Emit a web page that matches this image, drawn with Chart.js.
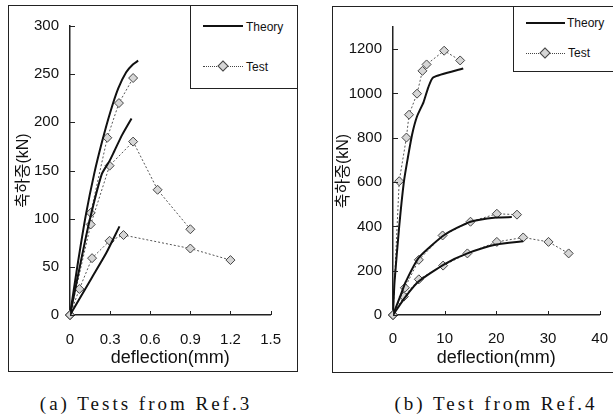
<!DOCTYPE html>
<html>
<head>
<meta charset="utf-8">
<script src="https://cdn.jsdelivr.net/npm/chart.js@4.4.1/dist/chart.umd.min.js"></script>
<style>
  body { margin: 0; width: 613px; height: 419px; overflow: hidden; background: #fff; position: relative;
         font-family: 'Liberation Sans', Arial, sans-serif; color: #111; }
  .frame { position: absolute; border: 1px solid #222; background: #fff; }
  .frame canvas { display: block; }
  .legend { position: absolute; border: 1px solid #222; background: #fff; }
  .solid { position: absolute; border-top: 2px solid #111; }
  .dotted { position: absolute; border-top: 1px dotted #444; }
  .dia { position: absolute; width: 6px; height: 6px; background: #d6d6d6; border: 1px solid #444; transform: rotate(45deg); }
  .lbl { position: absolute; font-size: 12px; line-height: 14px; }
  .cap { position: absolute; font-family: 'Liberation Serif', 'Times New Roman', serif; font-size: 19px;
         letter-spacing: 3px; white-space: nowrap; transform: translateX(-50%); }
</style>
</head>
<body>

<div class="frame" style="left:8px; top:5px; width:288px; height:365px;">
  <canvas id="chartA" width="288" height="365"></canvas>
</div>
<div class="frame" style="left:332px; top:6px; width:290px; height:365px;">
  <canvas id="chartB" width="290" height="365"></canvas>
</div>

<!-- legend (a) -->
<div class="legend" style="left:190px; top:5px; width:106px; height:82px;"></div>
<div class="solid" style="left:203px; top:25px; width:40px;"></div>
<div class="lbl" style="left:246px; top:20px;">Theory</div>
<div class="dotted" style="left:203px; top:66px; width:40px;"></div>
<div class="dia" style="left:219px; top:62px;"></div>
<div class="lbl" style="left:246px; top:60px;">Test</div>

<!-- legend (b) -->
<div class="legend" style="left:513px; top:6px; width:130px; height:64px;"></div>
<div class="solid" style="left:526px; top:22px; width:39px;"></div>
<div class="lbl" style="left:567px; top:16px;">Theory</div>
<div class="dotted" style="left:526px; top:53px; width:39px;"></div>
<div class="dia" style="left:541px; top:49px;"></div>
<div class="lbl" style="left:568px; top:46px;">Test</div>

<div class="cap" style="left:146px; top:393px;">(a) Tests from Ref.3</div>
<div class="cap" style="left:496px; top:393px;">(b) Test from Ref.4</div>

<script>
// ---- (a) Tests from Ref.3 ----
var xTicksA = [0, 0.3, 0.6, 0.9, 1.2, 1.5];
var xLabelsA = ['0', '0.3', '0.6', '0.9', '1.2', '1.5'];
var yTicksA = [0, 50, 100, 150, 200, 250, 300];

var theoryA1X = [0, 0.06, 0.12, 0.18, 0.24, 0.30, 0.36, 0.42, 0.47, 0.51];
var theoryA1Y = [0, 55, 105, 146, 180, 210, 235, 252, 260, 264];
var theoryA2X = [0, 0.07, 0.143, 0.237, 0.296, 0.331, 0.39, 0.46];
var theoryA2Y = [0, 48, 96, 146, 160, 170, 187, 204];
var theoryA3X = [0, 0.16, 0.27, 0.37];
var theoryA3Y = [0, 38, 64, 92];

var testA1X = [0, 0.155, 0.279, 0.366, 0.472];
var testA1Y = [0, 106, 184, 220, 246];
var testA2X = [0, 0.155, 0.296, 0.472, 0.655, 0.9];
var testA2Y = [0, 94, 155, 180, 130, 89];
var testA3X = [0, 0.07, 0.165, 0.296, 0.40, 0.9, 1.2];
var testA3Y = [0, 27, 59, 77, 83, 69, 57];

// ---- (b) Test from Ref.4 ----
var xTicksB = [0, 10, 20, 30, 40];
var yTicksB = [0, 200, 400, 600, 800, 1000, 1200];

var theoryB1X = [0, 0.3, 1.2, 2.1, 2.8, 3.7, 4.66, 5.9, 6.85, 7.8, 13.6];
var theoryB1Y = [0, 150, 400, 600, 700, 815, 897, 960, 1029, 1073, 1113];
var theoryB2X = [0, 1.5, 2.45, 5, 10, 15, 20, 23];
var theoryB2Y = [0, 91, 149, 259, 362, 421, 440, 442];
var theoryB3X = [0, 2.45, 5, 10, 14.4, 20, 25.2];
var theoryB3Y = [0, 83, 152, 230, 278, 318, 333];

var testB1X = [0, 1.2, 2.6, 3.1, 4.65, 5.7, 6.5, 9.9, 13.0];
var testB1Y = [0, 604, 801, 904, 999, 1102, 1131, 1193, 1149];
var testB2X = [0, 2.3, 5.0, 9.6, 15.0, 20.1, 24.0];
var testB2Y = [0, 123, 249, 359, 421, 457, 453];
var testB3X = [0, 2.1, 5.0, 9.7, 14.4, 20.1, 25.2, 30.1, 34.0];
var testB3Y = [0, 83, 161, 223, 278, 330, 350, 330, 278];

function pts(xs, ys) {
    return xs.map(function (x, i) { return {x: x, y: ys[i]}; });
}

function theory(xs, ys) {
    return {
        data: pts(xs, ys), showLine: true, pointRadius: 0,
        borderColor: '#111', borderWidth: 2, tension: 0.2
    };
}

function test(xs, ys) {
    return {
        data: pts(xs, ys), showLine: true, borderColor: '#555', borderWidth: 1, borderDash: [2, 2],
        pointStyle: 'rectRot', pointRadius: 4.5, pointBackgroundColor: '#d6d6d6',
        pointBorderColor: '#444', pointBorderWidth: 1, clip: false
    };
}

// short tick marks pointing into the plot
var inwardTicks = {
    id: 'inwardTicks',
    afterDraw: function (chart) {
        var ctx = chart.ctx, area = chart.chartArea, sx = chart.scales.x, sy = chart.scales.y;
        ctx.save();
        ctx.strokeStyle = '#222';
        ctx.lineWidth = 1;
        sx.ticks.forEach(function (t) {
            var px = Math.round(sx.getPixelForValue(t.value)) + 0.5;
            ctx.beginPath(); ctx.moveTo(px, area.bottom); ctx.lineTo(px, area.bottom - 4); ctx.stroke();
        });
        sy.ticks.forEach(function (t) {
            var py = Math.round(sy.getPixelForValue(t.value)) + 0.5;
            ctx.beginPath(); ctx.moveTo(area.left, py); ctx.lineTo(area.left + 5, py); ctx.stroke();
        });
        ctx.restore();
    }
};

var tickFont = {family: "'Liberation Sans', Arial, sans-serif", size: 15};
var yTitleFont = {family: "'Liberation Sans', 'Noto Sans CJK KR', sans-serif", size: 16};
var xTitleFont = {family: "'Liberation Sans', Arial, sans-serif", size: 18};

function makeChart(id, o) {
    return new Chart(document.getElementById(id), {
        type: 'scatter',
        data: {datasets: o.datasets},
        options: {
            responsive: false,
            animation: false,
            events: [],
            layout: {padding: {top: o.padTop, right: o.padRight, left: 0, bottom: 0}},
            plugins: {legend: {display: false}, tooltip: {enabled: false}},
            scales: {
                x: {
                    type: 'linear', min: o.xMin, max: o.xMax,
                    afterBuildTicks: function (s) { s.ticks = o.xTicks.map(function (v) { return {value: v}; }); },
                    afterFit: function (s) { s.height = o.xHeight; },
                    grid: {display: false, drawTicks: false},
                    border: {display: true, color: '#222', width: 1.5},
                    ticks: {padding: o.xPad, color: '#111', font: tickFont, maxRotation: 0,
                            callback: o.xLabel},
                    title: {display: true, text: 'deflection(mm)', color: '#111', font: xTitleFont,
                            padding: {top: 0, bottom: o.xTitlePad}}
                },
                y: {
                    type: 'linear', min: o.yMin, max: o.yMax,
                    afterBuildTicks: function (s) { s.ticks = o.yTicks.map(function (v) { return {value: v}; }); },
                    afterFit: function (s) { s.width = o.yWidth; },
                    grid: {display: false, drawTicks: false},
                    border: {display: true, color: '#222', width: 1.5},
                    ticks: {padding: 11, color: '#111', font: tickFont,
                            callback: function (v) { return String(v); }},
                    title: {display: true, text: '축하중(kN)', color: '#111', font: yTitleFont,
                            padding: {top: o.yTitlePad, bottom: 0}}
                }
            }
        },
        plugins: [inwardTicks]
    });
}

makeChart('chartA', {
    datasets: [
        theory(theoryA1X, theoryA1Y), theory(theoryA2X, theoryA2Y), theory(theoryA3X, theoryA3Y),
        test(testA1X, testA1Y), test(testA2X, testA2Y), test(testA3X, testA3Y)
    ],
    xMin: 0, xMax: 1.5, xTicks: xTicksA, yMin: 0, yMax: 300, yTicks: yTicksA,
    xLabel: function (v, i) { return xLabelsA[i]; },
    padTop: 12, padRight: 14, xHeight: 56, yWidth: 61, xPad: 16, xTitlePad: 2, yTitlePad: 5
});

makeChart('chartB', {
    datasets: [
        theory(theoryB1X, theoryB1Y), theory(theoryB2X, theoryB2Y), theory(theoryB3X, theoryB3Y),
        test(testB1X, testB1Y), test(testB2X, testB2Y), test(testB3X, testB3Y)
    ],
    xMin: 0, xMax: 40, xTicks: xTicksB, yMin: 0, yMax: 1300, yTicks: yTicksB,
    xLabel: function (v) { return String(v); },
    padTop: 13, padRight: 18, xHeight: 57, yWidth: 60, xPad: 15, xTitlePad: 3, yTitlePad: 1
});
</script>
</body>
</html>
